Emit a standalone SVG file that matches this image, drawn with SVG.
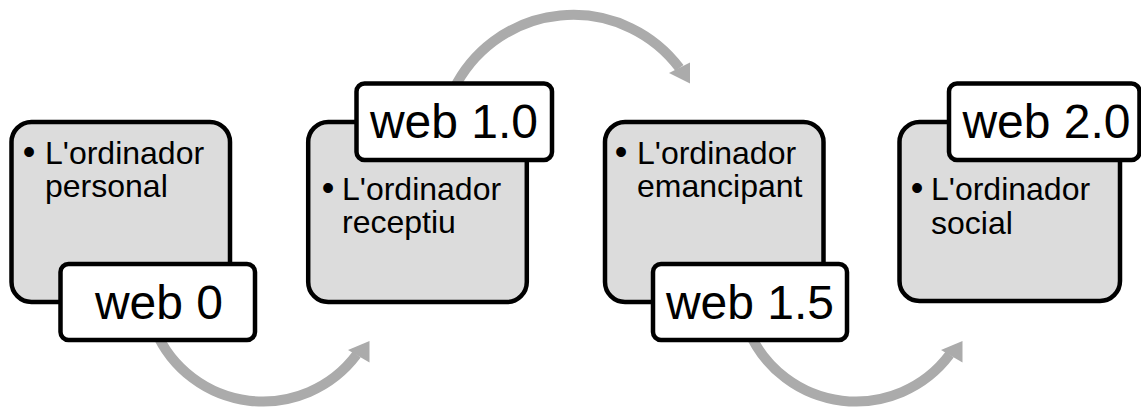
<svg xmlns="http://www.w3.org/2000/svg" width="1141" height="408" viewBox="0 0 1141 408">
<style>
.card{fill:#dcdcdc;stroke:#000;stroke-width:4.5}
.tag{fill:#fff;stroke:#000;stroke-width:4.5}
.body{font-family:"Liberation Sans",Arial,sans-serif;font-size:32px;fill:#000}
.bul{font-family:"Liberation Sans",Arial,sans-serif;font-size:36px;fill:#000;text-anchor:middle}
.lbl{font-family:"Liberation Sans",Arial,sans-serif;font-size:48px;fill:#000;text-anchor:middle}
.arc{fill:none;stroke:#ababab;stroke-width:10}
.head{fill:#ababab}
</style>
<rect width="1141" height="408" fill="#fff"/>
<g id="connectors">
  <path class="arc" d="M155.3,330.2 A117,117 0 0 0 356.7,354.6"/>
  <polygon class="head" points="348,350 369.5,341 369.5,362.5"/>
  <path class="arc" d="M453.4,90 A133,133 0 0 1 679.5,68"/>
  <polygon class="head" points="669,73 690,62.5 690,83.5"/>
  <path class="arc" d="M748.3,330.2 A117,117 0 0 0 949.7,354.6"/>
  <polygon class="head" points="941,350 962.5,341 962.5,362.5"/>
</g>
<g id="node1">
  <rect class="card" x="11.5" y="122" width="218.5" height="180" rx="20"/>
  <text class="bul" x="29" y="164">•</text>
  <text class="body" x="45" y="164">L'ordinador</text>
  <text class="body" x="45" y="197">personal</text>
  <rect class="tag" x="60.5" y="264" width="194.5" height="76" rx="8"/>
  <text class="lbl" x="159" y="318.5">web 0</text>
</g>
<g id="node2">
  <rect class="card" x="308.2" y="122" width="218.6" height="180" rx="20"/>
  <text class="bul" x="328" y="200">•</text>
  <text class="body" x="342" y="200">L'ordinador</text>
  <text class="body" x="342" y="233">receptiu</text>
  <rect class="tag" x="356.5" y="83.5" width="195.5" height="76.5" rx="8"/>
  <text class="lbl" x="454" y="137.5">web 1.0</text>
</g>
<g id="node3">
  <rect class="card" x="605" y="122" width="218.5" height="180" rx="20"/>
  <text class="bul" x="621" y="164">•</text>
  <text class="body" x="637" y="164">L'ordinador</text>
  <text class="body" x="637" y="197">emancipant</text>
  <rect class="tag" x="653" y="264" width="194" height="76" rx="8"/>
  <text class="lbl" x="750" y="318.5">web 1.5</text>
</g>
<g id="node4">
  <rect class="card" x="899.5" y="122" width="220.5" height="179" rx="20"/>
  <text class="bul" x="917" y="200">•</text>
  <text class="body" x="931" y="200">L'ordinador</text>
  <text class="body" x="931" y="234">social</text>
  <rect class="tag" x="949" y="83.5" width="190.5" height="76.5" rx="8"/>
  <text class="lbl" x="1046.5" y="137.5">web 2.0</text>
</g>
</svg>
